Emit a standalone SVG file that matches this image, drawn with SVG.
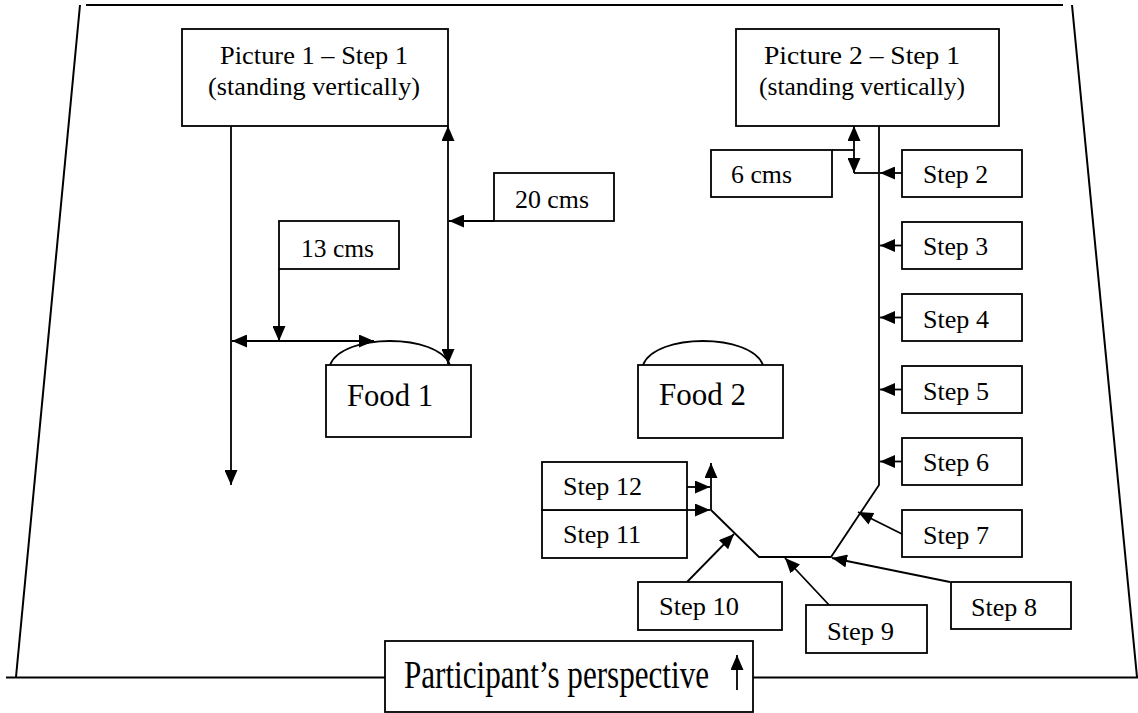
<svg xmlns="http://www.w3.org/2000/svg" width="1138" height="713" viewBox="0 0 1138 713">
<style>
.bx{fill:#fff;stroke:#000;stroke-width:1.8}
.ln{fill:none;stroke:#000;stroke-width:1.8}
.fr{fill:none;stroke:#000;stroke-width:2}
.t{font-family:"Liberation Serif","Times New Roman",serif;font-size:26px;fill:#000}
.tf{font-family:"Liberation Serif","Times New Roman",serif;font-size:32px;fill:#000}
.tp{font-family:"Liberation Serif","Times New Roman",serif;font-size:40px;fill:#000}
</style>
<defs>
<marker id="ah" viewBox="0 0 15 13" refX="15" refY="6.5" markerWidth="15" markerHeight="13" markerUnits="userSpaceOnUse" orient="auto-start-reverse">
<path d="M0,0 L15,6.5 L0,13 z" fill="#000"/>
</marker>
</defs>
<rect width="1138" height="713" fill="#fff"/>
<g id="frame">
<line class="fr" x1="86" y1="5" x2="1063" y2="5"/>
<line class="fr" x1="80" y1="5" x2="16" y2="677"/>
<line class="fr" x1="1072" y1="5" x2="1137" y2="677"/>
<line class="fr" x1="6" y1="677.5" x2="1138" y2="677.5"/>
</g>
<g id="connectors">
<line class="ln" x1="231" y1="126" x2="231" y2="485" marker-end="url(#ah)"/>
<line class="ln" x1="448" y1="126" x2="448" y2="364" stroke-width="2.6" marker-start="url(#ah)" marker-end="url(#ah)"/>
<line class="ln" x1="494" y1="221" x2="449" y2="221" marker-end="url(#ah)"/>
<line class="ln" x1="279" y1="269" x2="279" y2="341" marker-end="url(#ah)"/>
<line class="ln" x1="232" y1="341" x2="374" y2="341" marker-start="url(#ah)" marker-end="url(#ah)"/>
<polyline class="ln" points="879,126 879,485 831,557 759,557 711,510 711,463" marker-end="url(#ah)"/>
<line class="ln" x1="854" y1="126" x2="854" y2="173" marker-start="url(#ah)" marker-end="url(#ah)"/>
<line class="ln" x1="854" y1="173" x2="879" y2="173"/>
<line class="ln" x1="832" y1="150" x2="854" y2="150"/>
<line class="ln" x1="902" y1="173" x2="880" y2="173" marker-end="url(#ah)"/>
<line class="ln" x1="902" y1="245.5" x2="880" y2="245.5" marker-end="url(#ah)"/>
<line class="ln" x1="902" y1="317.5" x2="880" y2="317.5" marker-end="url(#ah)"/>
<line class="ln" x1="902" y1="389.5" x2="880" y2="389.5" marker-end="url(#ah)"/>
<line class="ln" x1="902" y1="461.5" x2="880" y2="461.5" marker-end="url(#ah)"/>
<line class="ln" x1="902" y1="534" x2="858" y2="512" marker-end="url(#ah)"/>
<line class="ln" x1="950" y1="582" x2="832" y2="558" marker-end="url(#ah)"/>
<line class="ln" x1="830" y1="606" x2="785" y2="558" marker-end="url(#ah)"/>
<line class="ln" x1="687" y1="582" x2="734" y2="534" marker-end="url(#ah)"/>
<line class="ln" x1="687" y1="510" x2="710" y2="510" marker-end="url(#ah)"/>
<line class="ln" x1="687" y1="487" x2="710" y2="487" marker-end="url(#ah)"/>
</g>
<g id="picture1">
<rect class="bx" x="182" y="29" width="266" height="97"/>
<text class="t" x="220" y="64" textLength="188" lengthAdjust="spacingAndGlyphs">Picture 1 – Step 1</text>
<text class="t" x="208" y="95" textLength="212" lengthAdjust="spacingAndGlyphs">(standing vertically)</text>
</g>
<g id="picture2">
<rect class="bx" x="736" y="29" width="263" height="97"/>
<text class="t" x="764" y="64" textLength="196" lengthAdjust="spacingAndGlyphs">Picture 2 – Step 1</text>
<text class="t" x="759" y="95" textLength="206" lengthAdjust="spacingAndGlyphs">(standing vertically)</text>
</g>
<g id="cms20">
<rect class="bx" x="494" y="173" width="120" height="48"/>
<text class="t" x="515" y="208" textLength="74" lengthAdjust="spacingAndGlyphs">20 cms</text>
</g>
<g id="cms13">
<rect class="bx" x="279" y="221" width="120" height="48"/>
<text class="t" x="301" y="256.5" textLength="73" lengthAdjust="spacingAndGlyphs">13 cms</text>
</g>
<g id="cms6">
<rect class="bx" x="711" y="150" width="121" height="47"/>
<text class="t" x="731" y="182.5" textLength="61" lengthAdjust="spacingAndGlyphs">6 cms</text>
</g>
<g id="food1">
<path class="ln" d="M330,365 C342,333 438,333 450,365"/>
<rect class="bx" x="326" y="365" width="145" height="72"/>
<text class="tf" x="347" y="406" textLength="86" lengthAdjust="spacingAndGlyphs">Food 1</text>
</g>
<g id="food2">
<path class="ln" d="M643,365 C655,333 751,333 763,365"/>
<rect class="bx" x="638" y="365" width="145" height="73"/>
<text class="tf" x="659" y="405" textLength="87" lengthAdjust="spacingAndGlyphs">Food 2</text>
</g>
<g id="step2"><rect class="bx" x="902" y="150" width="120" height="47"/><text class="t" x="923" y="183" textLength="65" lengthAdjust="spacingAndGlyphs">Step 2</text></g>
<g id="step3"><rect class="bx" x="902" y="222" width="120" height="47"/><text class="t" x="923" y="254.5" textLength="65" lengthAdjust="spacingAndGlyphs">Step 3</text></g>
<g id="step4"><rect class="bx" x="902" y="294" width="120" height="47"/><text class="t" x="923" y="327.5" textLength="66" lengthAdjust="spacingAndGlyphs">Step 4</text></g>
<g id="step5"><rect class="bx" x="902" y="366" width="120" height="47"/><text class="t" x="923" y="399.5" textLength="66" lengthAdjust="spacingAndGlyphs">Step 5</text></g>
<g id="step6"><rect class="bx" x="902" y="438" width="120" height="47"/><text class="t" x="923" y="471" textLength="66" lengthAdjust="spacingAndGlyphs">Step 6</text></g>
<g id="step7"><rect class="bx" x="902" y="510" width="120" height="47"/><text class="t" x="923" y="543.5" textLength="66" lengthAdjust="spacingAndGlyphs">Step 7</text></g>
<g id="step8"><rect class="bx" x="951" y="582" width="120" height="47"/><text class="t" x="971" y="615.5" textLength="66" lengthAdjust="spacingAndGlyphs">Step 8</text></g>
<g id="step9"><rect class="bx" x="806" y="605" width="121" height="48"/><text class="t" x="827" y="640" textLength="67" lengthAdjust="spacingAndGlyphs">Step 9</text></g>
<g id="step10"><rect class="bx" x="638" y="582" width="144" height="48"/><text class="t" x="659" y="615" textLength="80" lengthAdjust="spacingAndGlyphs">Step 10</text></g>
<g id="step11"><rect class="bx" x="542" y="510" width="145" height="48"/><text class="t" x="563" y="542.5" textLength="78" lengthAdjust="spacingAndGlyphs">Step 11</text></g>
<g id="step12"><rect class="bx" x="542" y="462" width="145" height="48"/><text class="t" x="563" y="494.5" textLength="79" lengthAdjust="spacingAndGlyphs">Step 12</text></g>
<g id="perspective">
<rect class="bx" x="385" y="641" width="368" height="71"/>
<text class="tp" x="404" y="688" textLength="305" lengthAdjust="spacingAndGlyphs">Participant’s perspective</text>
<line class="ln" x1="737" y1="690" x2="737" y2="655" marker-end="url(#ah)"/>
</g>
</svg>
